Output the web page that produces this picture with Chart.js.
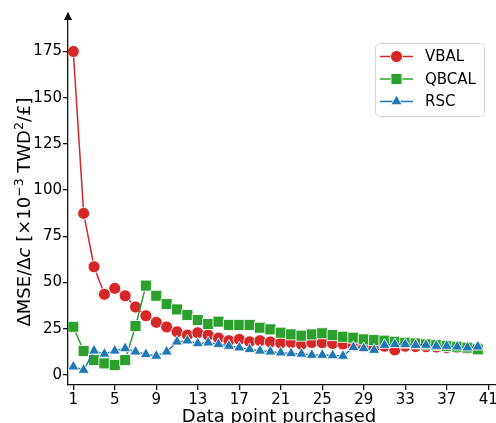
<!DOCTYPE html>
<html>
<head>
<meta charset="utf-8">
<script src="https://cdn.jsdelivr.net/npm/chart.js@4.4.1/dist/chart.umd.min.js"></script>
<style>
  html, body { margin: 0; padding: 0; background: #fff; }
  canvas { display: block; }
</style>
</head>
<body>
<canvas id="chart" width="496" height="423"></canvas>
<script>
// data point index (number of points purchased)
const purchased = [1, 2, 3, 4, 5, 6, 7, 8, 9, 10, 11, 12, 13, 14, 15, 16, 17, 18, 19, 20,
                   21, 22, 23, 24, 25, 26, 27, 28, 29, 30, 31, 32, 33, 34, 35, 36, 37, 38, 39, 40];
const vbal  = [175, 87.4, 58.5, 43.6, 46.8, 42.8, 36.7, 32, 28.4, 25.9, 23.3, 21.5, 22.8, 21.5, 19.9, 18.5, 19.2, 17.9, 18.5, 17.8,
               17.2, 17.5, 16.5, 17.5, 17.4, 17.0, 16.7, 16.0, 15.5, 15.0, 15.5, 13.5, 15.5, 15.3, 15.2, 15.0, 14.8, 14.6, 14.4, 14.5];
const qbcal = [26, 12.9, 8, 6.2, 5.3, 8, 26.4, 48.3, 42.8, 38.3, 35.4, 32.4, 29.7, 27.5, 28.8, 27, 27, 27, 25.5, 24.6,
               22.8, 21.9, 21.2, 21.9, 22.5, 21.5, 20.6, 20.1, 19.2, 18.8, 18.5, 17.9, 17.4, 17, 16.5, 16.1, 15.6, 15.2, 14.7, 13.8];
const rsc   = [4.4, 2.6, 13, 11.3, 13, 14.3, 12.5, 11.1, 10.2, 12.5, 17.9, 18.5, 17, 17.4, 16.5, 15.6, 14.7, 13.8, 13, 12.5,
               12, 11.6, 11.3, 10.7, 10.7, 10.5, 10.2, 14.9, 14.3, 13.4, 16.1, 16.5, 16.5, 16.1, 16.1, 15.6, 15.6, 15.2, 14.7, 15.2];
const seriesNames = ['VBAL', 'QBCAL', 'RSC'];
const xTicks = [1, 5, 9, 13, 17, 21, 25, 29, 33, 37, 41];
const yTicks = [0, 25, 50, 75, 100, 125, 150, 175];

const FONT = "'DejaVu Sans', sans-serif";

function pts(ys) {
  return purchased.map((x, i) => ({ x: x, y: ys[i] }));
}

function series(label, ys, color, style, radius, order) {
  return {
    label: label,
    data: pts(ys),
    borderColor: color,
    backgroundColor: color,
    borderWidth: 1.5,
    pointStyle: style,
    pointRadius: radius,
    pointHoverRadius: radius,
    pointBackgroundColor: color,
    pointBorderColor: 'rgba(255,255,255,0.85)',
    pointBorderWidth: 1,
    tension: 0,
    order: order
  };
}

// small marker drawer used by the legend
function marker(ctx, style, r, x, y, color) {
  ctx.save();
  ctx.fillStyle = color;
  ctx.strokeStyle = 'rgba(255,255,255,0.85)';
  ctx.lineWidth = 1;
  ctx.beginPath();
  if (style === 'circle') {
    ctx.arc(x, y, r, 0, Math.PI * 2);
  } else if (style === 'rect') {
    const s = Math.SQRT1_2 * r;
    ctx.rect(x - s, y - s, 2 * s, 2 * s);
  } else {
    ctx.moveTo(x, y - r);
    ctx.lineTo(x + r * Math.sqrt(3) / 2, y + r / 2);
    ctx.lineTo(x - r * Math.sqrt(3) / 2, y + r / 2);
    ctx.closePath();
  }
  ctx.fill();
  ctx.stroke();
  ctx.restore();
}

const decorations = {
  id: 'decorations',
  afterDraw(chart) {
    const ctx = chart.ctx;
    const area = chart.chartArea;

    // arrow head on top of the y axis
    ctx.save();
    ctx.fillStyle = '#000';
    ctx.beginPath();
    ctx.moveTo(area.left, area.top - 2);
    ctx.lineTo(area.left + 4, area.top + 6);
    ctx.lineTo(area.left - 4, area.top + 6);
    ctx.closePath();
    ctx.fill();
    ctx.restore();

    // x title
    ctx.save();
    ctx.fillStyle = '#000';
    ctx.font = '18px ' + FONT;
    ctx.textAlign = 'center';
    ctx.textBaseline = 'alphabetic';
    ctx.fillText('Data point purchased', 279, 422);
    ctx.restore();

    // y title with italic c and superscripts
    const parts = [
      { t: 'ΔMSE/Δ', f: '18px ' + FONT, dy: 0 },
      { t: 'c', f: 'oblique 18px ' + FONT, dy: 0 },
      { t: ' [×10', f: '18px ' + FONT, dy: 0 },
      { t: '−3', f: '12.5px ' + FONT, dy: -7 },
      { t: ' TWD', f: '18px ' + FONT, dy: 0 },
      { t: '2', f: '12.5px ' + FONT, dy: -7 },
      { t: '/£]', f: '18px ' + FONT, dy: 0 }
    ];
    ctx.save();
    let total = 0;
    parts.forEach(p => { ctx.font = p.f; p.w = ctx.measureText(p.t).width; total += p.w; });
    ctx.translate(30, 212);
    ctx.rotate(-Math.PI / 2);
    ctx.fillStyle = '#000';
    ctx.textBaseline = 'alphabetic';
    ctx.textAlign = 'left';
    let cx = -total / 2;
    parts.forEach(p => { ctx.font = p.f; ctx.fillText(p.t, cx, p.dy); cx += p.w; });
    ctx.restore();

    // legend
    const bx = 375, by = 43, bw = 109, bh = 73;
    ctx.save();
    ctx.fillStyle = 'rgba(255,255,255,0.8)';
    ctx.strokeStyle = '#d6d6d6';
    ctx.lineWidth = 1;
    ctx.beginPath();
    ctx.roundRect(bx + 0.5, by + 0.5, bw, bh, 4);
    ctx.fill();
    ctx.stroke();
    chart.data.datasets.forEach((ds, i) => {
      const y = 56.5 + i * 22.5;
      ctx.strokeStyle = ds.borderColor;
      ctx.lineWidth = 1.5;
      ctx.beginPath();
      ctx.moveTo(380, y);
      ctx.lineTo(413, y);
      ctx.stroke();
      marker(ctx, ds.pointStyle, ds.pointRadius, 396.5, y, ds.borderColor);
      ctx.fillStyle = '#000';
      ctx.font = '15px ' + FONT;
      ctx.textAlign = 'left';
      ctx.textBaseline = 'middle';
      ctx.fillText(seriesNames[i], 425, y + 1);
    });
    ctx.restore();
  }
};

const axisCommon = {
  type: 'linear',
  grid: { display: true, drawOnChartArea: false, drawTicks: true, tickLength: 5, color: '#111', lineWidth: 1.3 },
  border: { display: true, color: '#111', width: 1.3 },
  ticks: { color: '#000', font: { family: FONT, size: 15 }, autoSkip: false, maxRotation: 0 }
};

new Chart(document.getElementById('chart').getContext('2d'), {
  type: 'line',
  data: {
    datasets: [
      series(seriesNames[0], vbal, '#d62728', 'circle', 6, 3),
      series(seriesNames[1], qbcal, '#2ca02c', 'rect', 7.8, 2),
      series(seriesNames[2], rsc, '#1f77b4', 'triangle', 6.5, 1)
    ]
  },
  options: {
    responsive: false,
    animation: false,
    devicePixelRatio: 1,
    layout: { autoPadding: false, padding: { top: 14, right: 0, left: 0, bottom: 0 } },
    plugins: { legend: { display: false }, tooltip: { enabled: false } },
    scales: {
      x: Object.assign({}, axisCommon, {
        min: 0.49, max: 41.75,
        afterBuildTicks: s => { s.ticks = xTicks.map(v => ({ value: v })); },
        afterFit: s => { s.height = 38; s.paddingLeft = 0; s.paddingRight = 0; },
        ticks: Object.assign({}, axisCommon.ticks, { padding: 1 })
      }),
      y: Object.assign({}, axisCommon, {
        min: -5.5, max: 195.3,
        afterBuildTicks: s => { s.ticks = yTicks.map(v => ({ value: v })); },
        afterFit: s => { s.width = 68; s.paddingTop = 0; s.paddingBottom = 0; },
        ticks: Object.assign({}, axisCommon.ticks, { padding: 1 })
      })
    }
  },
  plugins: [decorations]
});
</script>
</body>
</html>
